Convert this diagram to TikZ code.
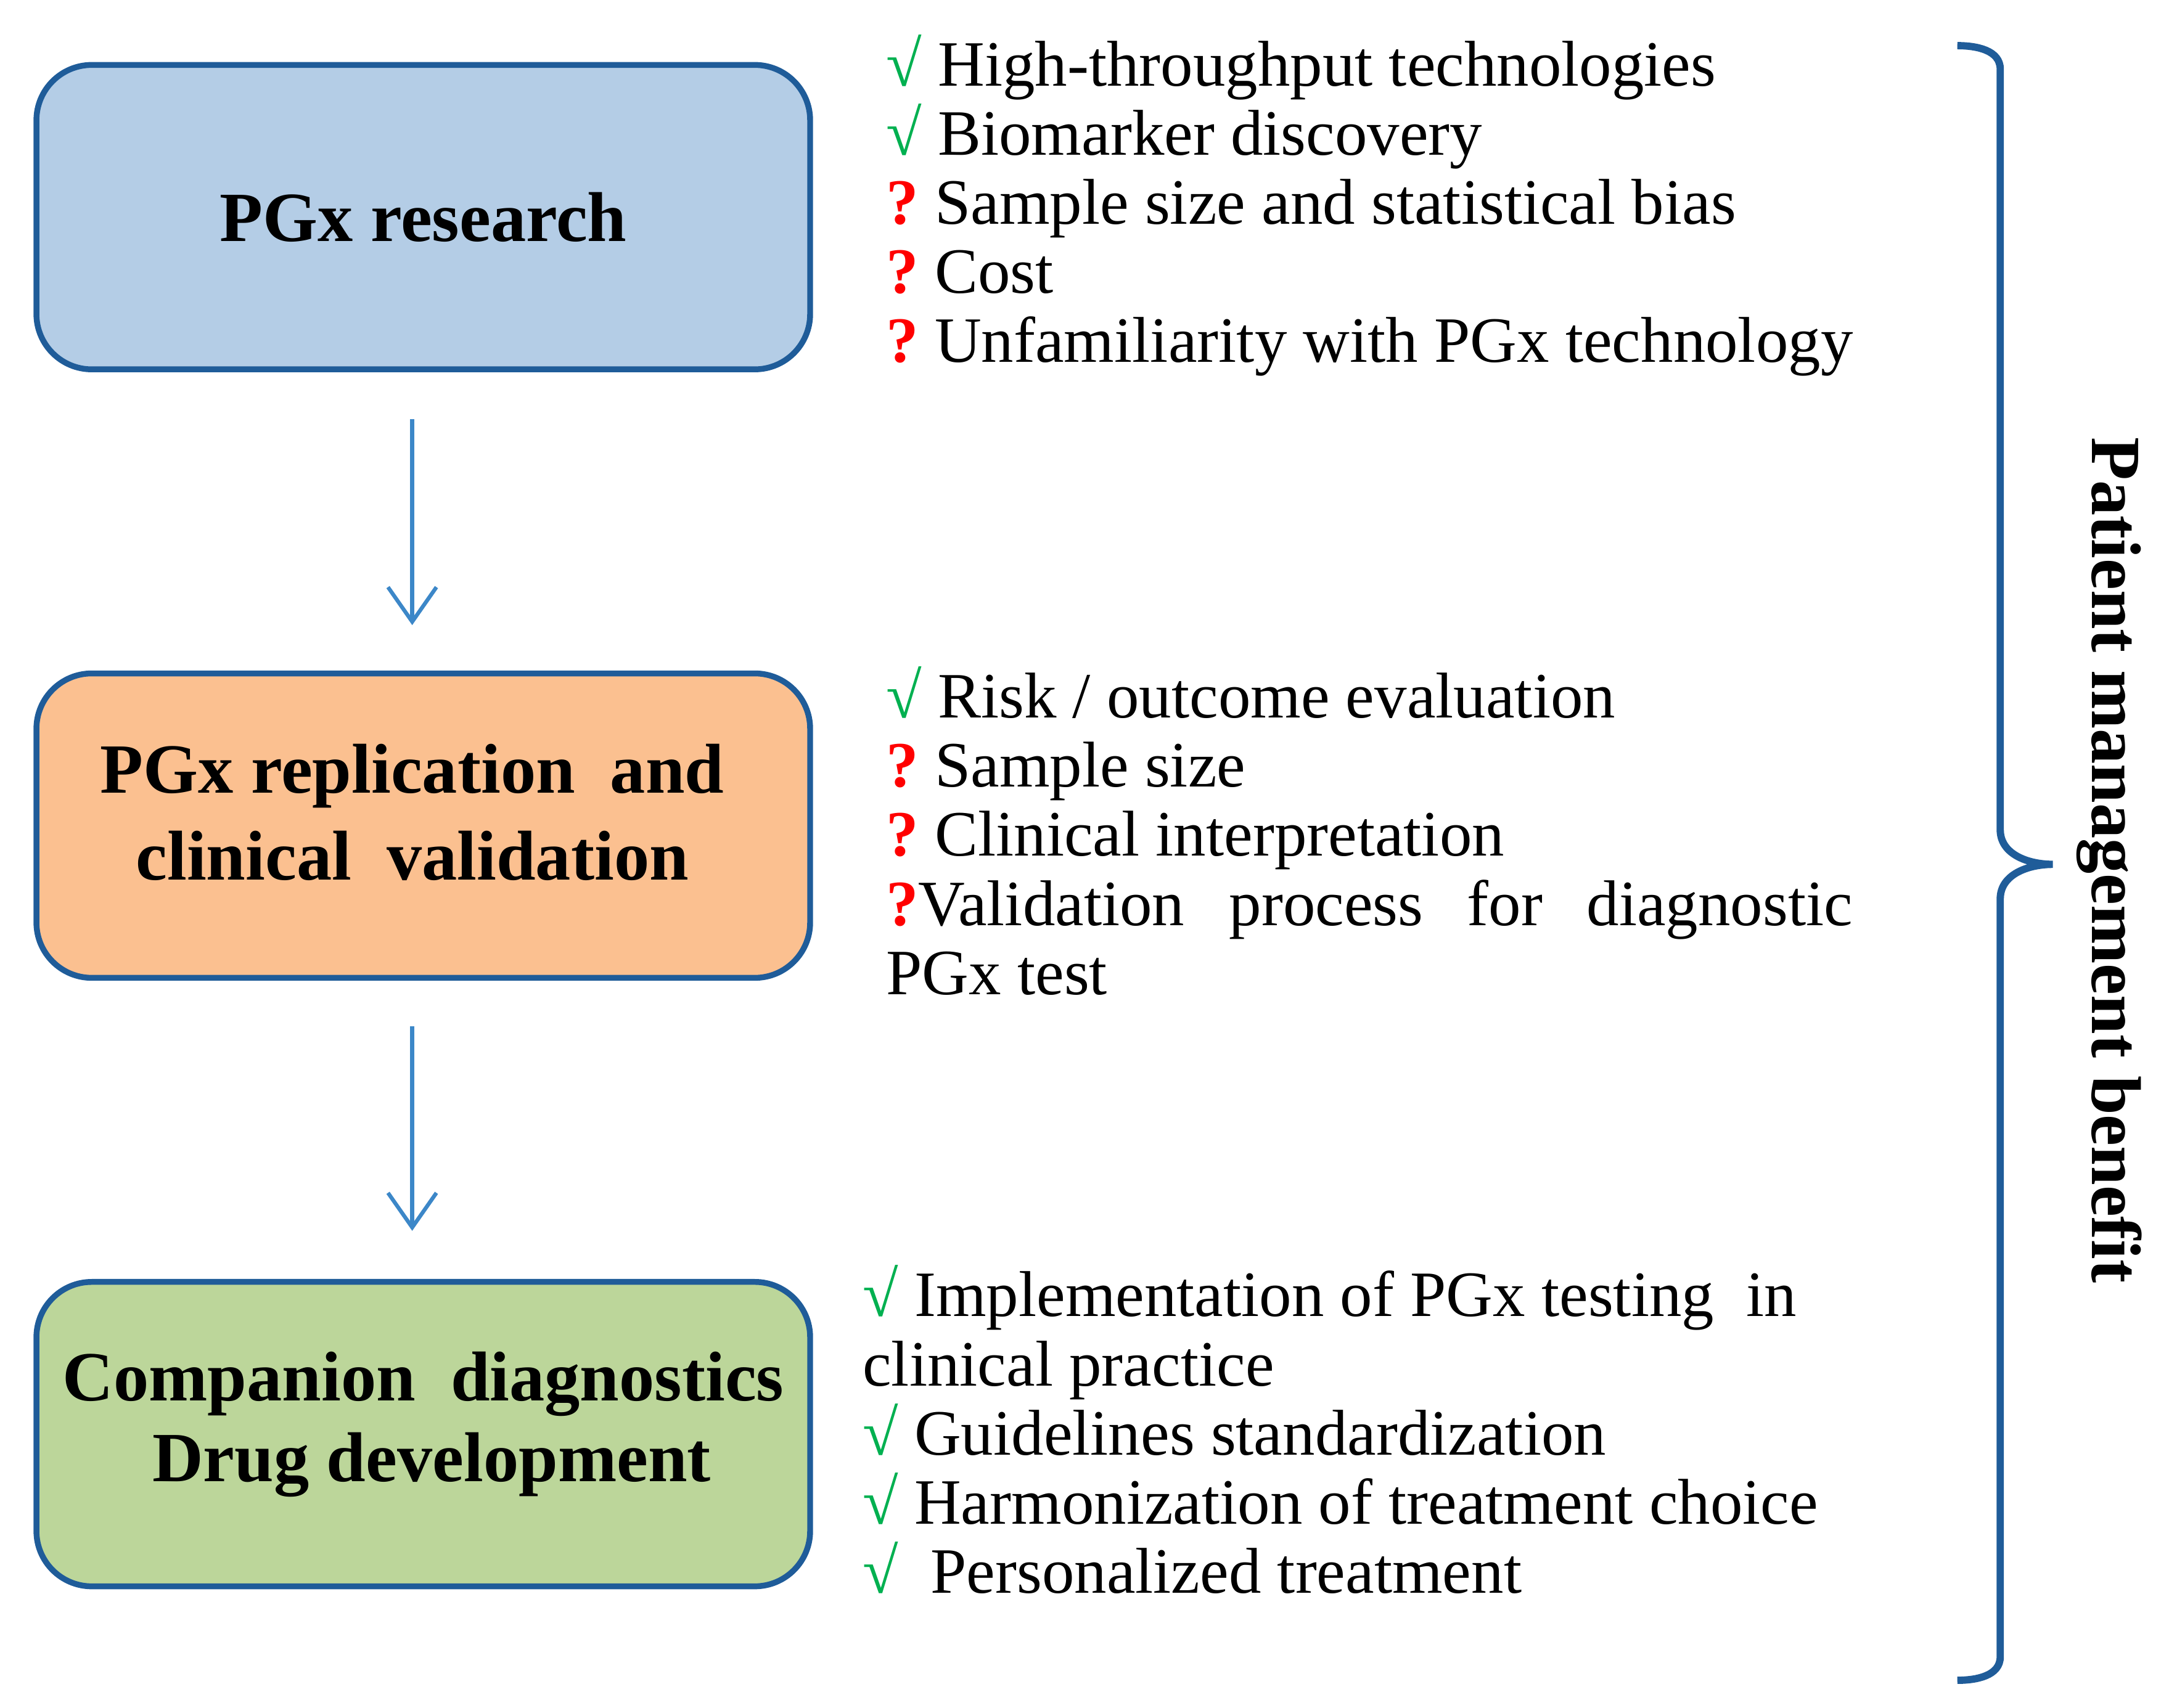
\documentclass[tikz,border=0pt]{standalone}
\usepackage{fontspec}
\setmainfont{Liberation Serif}
\usetikzlibrary{arrows.meta}
\definecolor{bord}{HTML}{1F5C99}
\definecolor{arr}{HTML}{3C87C8}
\definecolor{fb}{HTML}{B4CDE6}
\definecolor{fo}{HTML}{FBC090}
\definecolor{fg}{HTML}{BCD69A}
\definecolor{ck}{HTML}{00B050}
\newcommand\okm{\textcolor{ck}{\textbf{√}}}
\newcommand\qm{\textcolor{red}{\textbf{?}}}
\begin{document}
\begin{tikzpicture}[x=0.01cm,y=-0.01cm,
  box/.style={draw=bord,line width=1.2pt,rounded corners=0.4cm,minimum width=5.59cm,minimum height=2.2cm},
  bt/.style={font=\fontsize{14.5}{16}\selectfont\bfseries},
  t/.style={anchor=base west,inner sep=0pt,font=\fontsize{13.3}{15}\selectfont},
  ar/.style={draw=arr,line width=0.8pt,-{Straight Barb[length=2.5mm,width=3.5mm]}}]
\useasboundingbox (0,0) rectangle (1568,1235);
\node[box,fill=fb] (b1) at (306,157) {};
\node[bt] (l1) at (306,157) {PGx research};
\node[box,fill=fo] (b2) at (306,597) {};
\node[bt] (l2a) at (298,561) {PGx replication\ \ and};
\node[bt] (l2b) at (298,619) {clinical\ \ validation};
\node[box,fill=fg] (b3) at (306,1037) {};
\node[bt] (l3a) at (306,1001) {Companion\ \ diagnostics};
\node[bt] (l3b) at (312,1059) {Drug development};
\coordinate (a1s) at (298,303); \coordinate (a1e) at (298,452);
\coordinate (a2s) at (298,742); \coordinate (a2e) at (298,890);
\draw[ar] (a1s) -- (a1e);
\draw[ar] (a2s) -- (a2e);
\node[t] (r1) at (640,62) {\okm\ High-throughput technologies};
\node[t] (r2) at (640,112) {\okm\ Biomarker discovery};
\node[t] (r3) at (640,162) {\qm\ Sample size and statistical bias};
\node[t] (r4) at (640,212) {\qm\ Cost};
\node[t] (r5) at (640,262) {\qm\ Unfamiliarity with PGx technology};
\node[t] (s1) at (640,519) {\okm\ Risk / outcome evaluation};
\node[t] (s2) at (640,569) {\qm\ Sample size};
\node[t] (s3) at (640,619) {\qm\ Clinical interpretation};
\node[t] (s4) at (640,669) {\qm Validation};
\node[t] (s4b) at (888,669) {process};
\node[t] (s4c) at (1060,669) {for};
\node[t,anchor=base east] (s4d) at (1340,669) {diagnostic};
\node[t] (s5) at (640,719) {PGx test};
\node[t] (u1) at (623,952) {\okm\ Implementation of PGx testing\ \ in};
\node[t] (u2) at (623,1002) {clinical practice};
\node[t] (u3) at (623,1052) {\okm\ Guidelines standardization};
\node[t] (u4) at (623,1102) {\okm\ Harmonization of treatment choice};
\node[t] (u5) at (623,1152) {\okm\ \ Personalized treatment};
\coordinate (bt) at (1415,33); \coordinate (bb) at (1415,1215); \coordinate (tip) at (1484,625);
\draw[bord,line width=1.5pt] (bt) to[out=0,in=90] (1446,50) -- (1446,600) to[out=-90,in=180] (tip) to[out=180,in=90] (1446,650) -- (1446,1198) to[out=-90,in=0] (bb);
\node[rotate=-90,bt] (pm) at (1525,622) {Patient management benefit};
\end{tikzpicture}
\end{document}
